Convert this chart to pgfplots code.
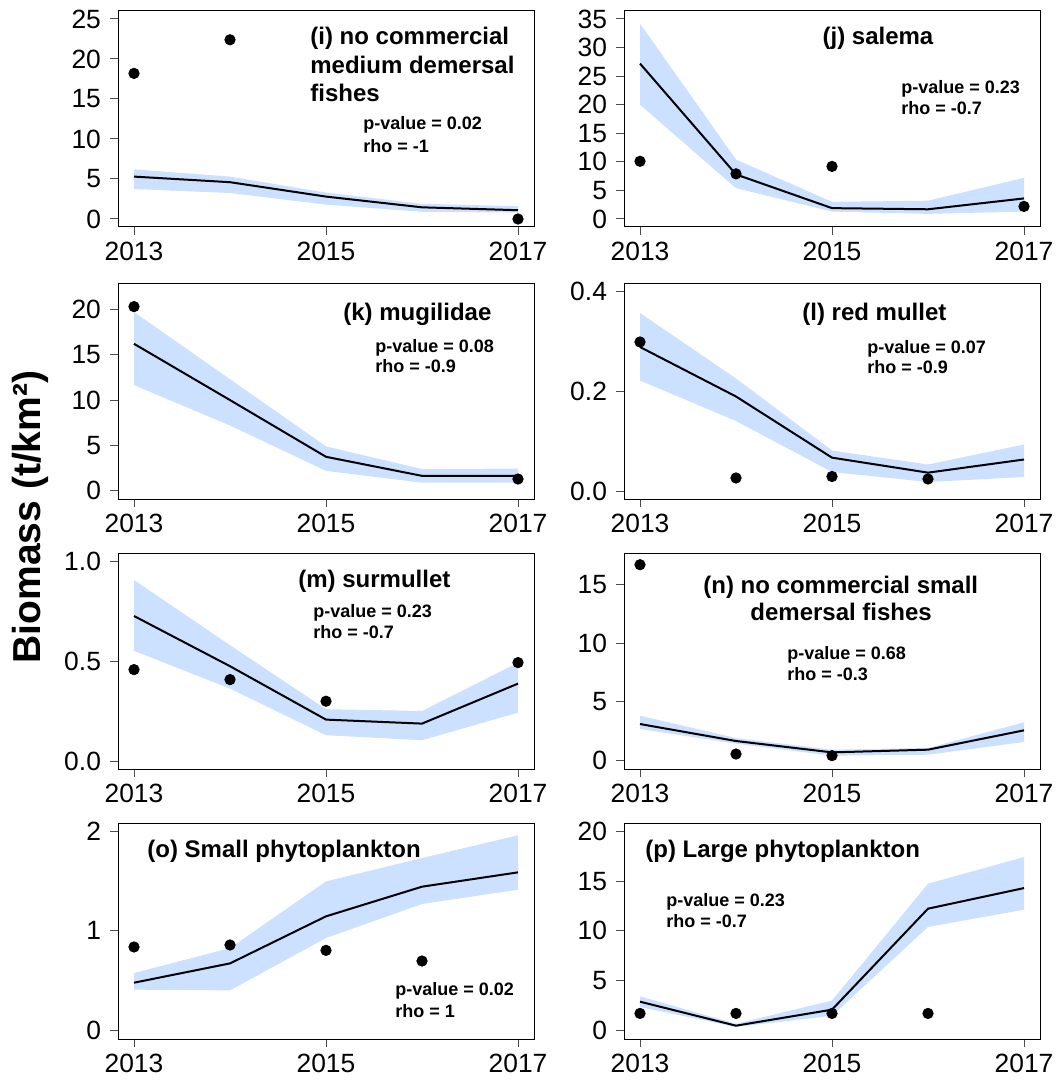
\documentclass[border=0pt]{standalone}
\usepackage{fontspec}
\setmainfont{Liberation Sans}
\usepackage{pgfplots}
\pgfplotsset{compat=1.18}
\definecolor{bandc}{HTML}{CCE0FF}
\pgfplotsset{
 panel/.style={scale only axis, width=208pt, height=108pt, anchor=north west,
   xmin=2012.8333, xmax=2017.1667, xtick={2013,2015,2017},
   tick align=outside, tick pos=left, major tick length=4pt,
   every tick/.style={black!70, line width=0.5pt},
   axis line style={line width=0.5pt},
   ticklabel style={font=\fontsize{13.2}{15}\selectfont},
   yticklabel style={xshift=-1pt},
   /pgf/number format/assume math mode=true,
   xticklabel style={/pgf/number format/1000 sep={}},
   clip=false},
 bandp/.style={fill=bandc, draw=none},
 est/.style={black, line width=1pt, mark=none},
 obs/.style={only marks, mark=*, mark size=2.6pt, black},
}
\newcommand{\ttl}{\fontsize{12}{14}\bfseries}
\newcommand{\stat}{\fontsize{9}{11}\bfseries}
\begin{document}
\begin{tikzpicture}
\path[use as bounding box] (0,0) rectangle (528.5pt,-540.5pt);
% (i)
\begin{axis}[panel, at={(59pt,-5.5pt)}, ymin=-1, ymax=26, ytick={0,5,10,15,20,25}]
\addplot[bandp] coordinates {(2013,6.2)(2014,5.3)(2015,3.3)(2016,1.9)(2017,1.6)(2017,0.8)(2016,0.9)(2015,1.8)(2014,3.25)(2013,3.75)} -- cycle;
\addplot[est] coordinates {(2013,5.3)(2014,4.6)(2015,2.8)(2016,1.46)(2017,1.1)};
\addplot[obs] coordinates {(2013,18.2)(2014,22.4)(2017,0.0)};
\end{axis}
% (j)
\begin{axis}[panel, at={(312pt,-5.5pt)}, ymin=-1.4, ymax=36.4, ytick={0,5,10,15,20,25,30,35}]
\addplot[bandp] coordinates {(2013,34.2)(2014,10.4)(2015,3.0)(2016,3.2)(2017,7.2)(2017,1.3)(2016,0.9)(2015,1.3)(2014,5.4)(2013,20.0)} -- cycle;
\addplot[est] coordinates {(2013,27.2)(2014,7.8)(2015,1.9)(2016,1.7)(2017,3.6)};
\addplot[obs] coordinates {(2013,10.1)(2014,7.9)(2015,9.2)(2017,2.2)};
\end{axis}
% (k)
\begin{axis}[panel, at={(59pt,-141.5pt)}, ymin=-0.9, ymax=22.9, ytick={0,5,10,15,20}]
\addplot[bandp] coordinates {(2013,19.7)(2014,12.3)(2015,4.9)(2016,2.4)(2017,2.45)(2017,0.9)(2016,0.9)(2015,2.2)(2014,7.2)(2013,11.65)} -- cycle;
\addplot[est] coordinates {(2013,16.2)(2014,10.0)(2015,3.75)(2016,1.65)(2017,1.65)};
\addplot[obs] coordinates {(2013,20.3)(2017,1.3)};
\end{axis}
% (l)
\begin{axis}[panel, at={(312pt,-141.5pt)}, ymin=-0.016, ymax=0.416, ytick={0,0.2,0.4}, yticklabels={0.0,0.2,0.4}]
\addplot[bandp] coordinates {(2013,0.356)(2014,0.225)(2015,0.081)(2016,0.053)(2017,0.093)(2017,0.028)(2016,0.018)(2015,0.038)(2014,0.14)(2013,0.221)} -- cycle;
\addplot[est] coordinates {(2013,0.288)(2014,0.189)(2015,0.0667)(2016,0.0367)(2017,0.063)};
\addplot[obs] coordinates {(2013,0.298)(2014,0.026)(2015,0.029)(2016,0.024)};
\end{axis}
% (m)
\begin{axis}[panel, at={(59pt,-276.5pt)}, ymin=-0.04, ymax=1.04, ytick={0,0.5,1}, yticklabels={0.0,0.5,1.0}]
\addplot[bandp] coordinates {(2013,0.905)(2014,0.579)(2015,0.259)(2016,0.250)(2017,0.491)(2017,0.242)(2016,0.104)(2015,0.129)(2014,0.362)(2013,0.551)} -- cycle;
\addplot[est] coordinates {(2013,0.725)(2014,0.474)(2015,0.207)(2016,0.187)(2017,0.387)};
\addplot[obs] coordinates {(2013,0.457)(2014,0.407)(2015,0.299)(2017,0.492)};
\end{axis}
% (n)
\begin{axis}[panel, at={(312pt,-276.5pt)}, ymin=-0.74, ymax=17.7, ytick={0,5,10,15}]
\addplot[bandp] coordinates {(2013,3.81)(2014,1.9)(2015,0.91)(2016,1.05)(2017,3.25)(2017,1.57)(2016,0.48)(2015,0.4)(2014,1.42)(2013,2.68)} -- cycle;
\addplot[est] coordinates {(2013,3.1)(2014,1.65)(2015,0.68)(2016,0.91)(2017,2.56)};
\addplot[obs] coordinates {(2013,16.7)(2014,0.54)(2015,0.4)};
\end{axis}
% (o)
\begin{axis}[panel, at={(59pt,-411.5pt)}, ymin=-0.087, ymax=2.084, ytick={0,1,2}]
\addplot[bandp] coordinates {(2013,0.576)(2014,0.827)(2015,1.497)(2016,1.732)(2017,1.96)(2017,1.414)(2016,1.27)(2015,0.928)(2014,0.402)(2013,0.409)} -- cycle;
\addplot[est] coordinates {(2013,0.479)(2014,0.673)(2015,1.146)(2016,1.444)(2017,1.588)};
\addplot[obs] coordinates {(2013,0.838)(2014,0.858)(2015,0.804)(2016,0.697)};
\end{axis}
% (p)
\begin{axis}[panel, at={(312pt,-411.5pt)}, ymin=-0.87, ymax=20.84, ytick={0,5,10,15,20}]
\addplot[bandp] coordinates {(2013,3.42)(2014,0.67)(2015,3.0)(2016,14.74)(2017,17.42)(2017,12.13)(2016,10.39)(2015,1.47)(2014,0.34)(2013,2.35)} -- cycle;
\addplot[est] coordinates {(2013,2.88)(2014,0.47)(2015,2.08)(2016,12.23)(2017,14.3)};
\addplot[obs] coordinates {(2013,1.7)(2014,1.7)(2015,1.7)(2016,1.7)};
\end{axis}
\begin{scope}[x=0.5pt,y=-0.5pt]
\node[rotate=90, font=\fontsize{19.5}{22}\bfseries] at (30,517) {Biomass (t/km²)};
% (i)
\node[anchor=base west, font=\ttl, inner sep=0] at (310,45) {(i) no commercial};
\node[anchor=base west, font=\ttl, inner sep=0] at (310,74) {medium demersal};
\node[anchor=base west, font=\ttl, inner sep=0] at (310,102) {fishes};
\node[anchor=base west, font=\stat, inner sep=0] at (363,130) {p-value = 0.02};
\node[anchor=base west, font=\stat, inner sep=0] at (363,152) {rho = -1};
% (j)
\node[anchor=base, font=\ttl, inner sep=0] at (878,45) {(j) salema};
\node[anchor=base west, font=\stat, inner sep=0] at (901,94) {p-value = 0.23};
\node[anchor=base west, font=\stat, inner sep=0] at (901,114) {rho = -0.7};
% (k)
\node[anchor=base west, font=\ttl, inner sep=0] at (343,320) {(k) mugilidae};
\node[anchor=base west, font=\stat, inner sep=0] at (375,352) {p-value = 0.08};
\node[anchor=base west, font=\stat, inner sep=0] at (375,372) {rho = -0.9};
% (l)
\node[anchor=base west, font=\ttl, inner sep=0] at (802,320) {(l) red mullet};
\node[anchor=base west, font=\stat, inner sep=0] at (867,353) {p-value = 0.07};
\node[anchor=base west, font=\stat, inner sep=0] at (867,373) {rho = -0.9};
% (m)
\node[anchor=base west, font=\ttl, inner sep=0] at (298,587) {(m) surmullet};
\node[anchor=base west, font=\stat, inner sep=0] at (313,617) {p-value = 0.23};
\node[anchor=base west, font=\stat, inner sep=0] at (313,638) {rho = -0.7};
% (n)
\node[anchor=base west, font=\ttl, inner sep=0] at (703,593) {(n) no commercial small};
\node[anchor=base west, font=\ttl, inner sep=0] at (750,620) {demersal fishes};
\node[anchor=base west, font=\stat, inner sep=0] at (787,659) {p-value = 0.68};
\node[anchor=base west, font=\stat, inner sep=0] at (787,680) {rho = -0.3};
% (o)
\node[anchor=base west, font=\ttl, inner sep=0] at (147,857) {(o) Small phytoplankton};
\node[anchor=base west, font=\stat, inner sep=0] at (395,995) {p-value = 0.02};
\node[anchor=base west, font=\stat, inner sep=0] at (395,1017) {rho = 1};
% (p)
\node[anchor=base west, font=\ttl, inner sep=0] at (645,857) {(p) Large phytoplankton};
\node[anchor=base west, font=\stat, inner sep=0] at (666,906) {p-value = 0.23};
\node[anchor=base west, font=\stat, inner sep=0] at (666,927) {rho = -0.7};
\end{scope}
\end{tikzpicture}
\end{document}
